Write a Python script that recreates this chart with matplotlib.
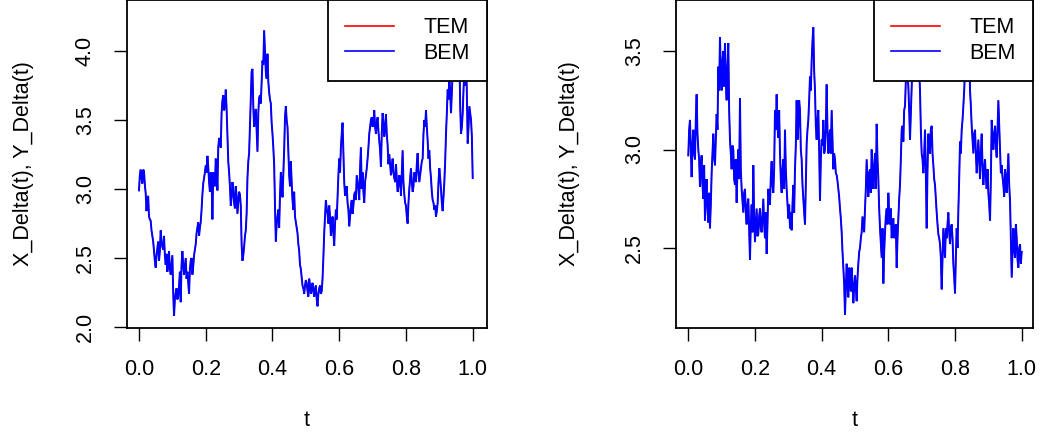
import numpy as np
import matplotlib
matplotlib.use("Agg")
import matplotlib.pyplot as plt

plt.rcParams['font.family'] = ['Liberation Sans', 'DejaVu Sans']

# ---------------- data ----------------
# Left panel. Values at t = 0, 0.005, ..., 1 (201 readings) ...
bem_left_grid = [
    2.99, 3.14, 3.04, 3.13, 2.97, 2.92, 2.80, 2.77, 2.66, 2.55,
    2.43, 2.57, 2.48, 2.70, 2.58, 2.66, 2.45, 2.40, 2.55, 2.38,
    2.52, 2.08, 2.25, 2.20, 2.30, 2.18, 2.55, 2.38, 2.50, 2.40,
    2.24, 2.48, 2.38, 2.52, 2.60, 2.72, 2.66, 2.76, 2.96, 3.08,
    3.17, 3.24, 3.05, 3.12, 2.78, 3.05, 3.22, 2.99, 3.37, 3.30,
    3.64, 3.57, 3.72, 3.38, 3.12, 2.88, 3.05, 2.90, 3.02, 2.82,
    2.98, 2.88, 2.48, 2.58, 2.70, 3.08, 3.26, 3.64, 3.87, 3.45,
    3.58, 3.27, 3.66, 3.62, 3.93, 4.15, 3.85, 3.98, 3.70, 3.62,
    3.40, 3.18, 2.62, 2.80, 2.72, 3.12, 2.94, 3.28, 3.60, 3.45,
    3.10, 3.20, 2.92, 2.98, 2.76, 2.68, 2.55, 2.42, 2.30, 2.24,
    2.34, 2.26, 2.35, 2.24, 2.32, 2.22, 2.30, 2.15, 2.28, 2.24,
    2.35, 2.68, 2.92, 2.82, 2.88, 2.66, 2.80, 2.59, 2.85, 2.95,
    3.22, 3.30, 3.48, 3.05, 2.98, 2.90, 2.73, 2.88, 2.82, 2.96,
    2.92, 3.05, 2.92, 3.30, 3.12, 2.90, 3.10, 3.22, 3.40, 3.50,
    3.45, 3.57, 3.40, 3.52, 3.35, 3.16, 3.55, 3.38, 3.54, 3.32,
    3.25, 3.10, 3.22, 3.08, 3.18, 2.98, 3.10, 2.95, 3.28, 2.96,
    2.88, 2.75, 3.00, 3.15, 2.98, 3.12, 3.05, 3.26, 3.05, 3.15,
    3.22, 3.50, 3.57, 3.35, 3.28, 3.08, 2.92, 2.85, 2.80, 2.90,
    3.15, 3.00, 2.84, 3.05, 3.40, 3.72, 3.82, 3.55, 3.85, 3.95,
    4.10, 4.25, 4.00, 3.40, 3.55, 3.85, 4.05, 3.33, 3.60, 3.50,
    3.08,
]
# ... and the readings half-way between them (200 readings)
bem_left_mid = [
    3.10, 3.08, 3.14, 3.03, 2.84, 2.95, 2.78, 2.70, 2.62, 2.48,
    2.52, 2.62, 2.55, 2.62, 2.56, 2.52, 2.53, 2.47, 2.42, 2.45,
    2.25, 2.20, 2.28, 2.22, 2.40, 2.45, 2.45, 2.44, 2.35, 2.32,
    2.42, 2.50, 2.44, 2.56, 2.68, 2.76, 2.72, 2.85, 3.04, 3.12,
    3.12, 3.16, 2.98, 3.08, 3.12, 3.02, 3.14, 3.30, 3.34, 3.55,
    3.68, 3.60, 3.58, 3.20, 3.02, 2.94, 3.00, 2.86, 2.95, 2.90,
    2.96, 2.60, 2.52, 2.66, 2.82, 3.20, 3.45, 3.85, 3.60, 3.50,
    3.42, 3.55, 3.68, 3.78, 3.90, 4.00, 3.80, 3.78, 3.65, 3.48,
    3.30, 2.88, 2.74, 2.85, 2.95, 3.05, 3.10, 3.52, 3.50, 3.28,
    3.02, 3.05, 2.85, 2.80, 2.72, 2.60, 2.45, 2.36, 2.28, 2.30,
    2.32, 2.22, 2.30, 2.27, 2.26, 2.28, 2.20, 2.24, 2.30, 2.26,
    2.50, 2.80, 2.86, 2.75, 2.80, 2.72, 2.68, 2.75, 2.78, 3.10,
    3.12, 3.40, 3.25, 2.95, 3.02, 2.85, 2.80, 2.92, 2.88, 2.98,
    3.10, 3.00, 3.15, 3.00, 2.98, 3.05, 3.15, 3.30, 3.45, 3.52,
    3.48, 3.45, 3.48, 3.42, 3.28, 3.40, 3.48, 3.44, 3.40, 3.18,
    3.18, 3.15, 3.12, 3.05, 3.08, 3.02, 3.08, 3.12, 3.05, 2.90,
    2.80, 2.90, 3.08, 3.05, 3.02, 3.10, 3.18, 3.12, 3.10, 3.20,
    3.40, 3.45, 3.45, 3.22, 3.15, 2.98, 2.90, 2.88, 2.84, 3.05,
    3.08, 2.90, 2.95, 3.20, 3.55, 3.65, 3.70, 3.70, 3.80, 4.00,
    4.15, 4.10, 3.60, 3.45, 3.72, 3.75, 3.70, 3.45, 3.55, 3.38,
]

# Right panel, same layout
bem_right_grid = [
    2.97, 3.15, 2.86, 3.10, 2.95, 3.28, 3.00, 2.81, 2.97, 2.75,
    2.64, 2.85, 2.63, 2.60, 2.88, 3.08, 2.92, 3.18, 3.42, 3.57,
    3.30, 3.50, 3.54, 3.25, 3.54, 3.05, 2.90, 3.00, 2.82, 2.73,
    3.00, 3.26, 2.80, 2.68, 2.80, 2.62, 2.75, 2.44, 2.72, 2.92,
    2.53, 2.70, 2.57, 2.70, 2.58, 2.75, 2.55, 2.47, 2.80, 2.72,
    2.94, 2.78, 3.20, 3.28, 3.06, 2.98, 2.78, 2.95, 3.10, 2.80,
    2.65, 2.60, 2.59, 2.82, 2.90, 3.25, 3.12, 3.20, 2.95, 2.75,
    2.62, 3.03, 3.15, 3.37, 3.45, 3.62, 3.30, 3.05, 3.20, 2.74,
    3.05, 3.15, 3.00, 3.33, 2.98, 3.10, 3.20, 2.90, 2.95, 2.87,
    2.80, 2.70, 2.58, 2.40, 2.16, 2.42, 2.25, 2.35, 2.40, 2.22,
    2.36, 2.23, 2.42, 2.50, 2.58, 2.62, 2.70, 2.95, 2.76, 2.90,
    3.00, 2.80, 2.98, 3.13, 2.85, 2.60, 2.45, 2.32, 2.58, 2.70,
    2.78, 2.62, 2.55, 2.65, 2.58, 2.40, 2.65, 2.82, 3.10, 3.04,
    3.22, 3.45, 3.32, 3.05, 3.30, 3.55, 3.68, 3.40, 3.60, 3.30,
    2.98, 2.88, 3.10, 2.60, 3.08, 2.98, 3.12, 2.92, 2.82, 2.68,
    2.57, 2.52, 2.29, 2.60, 2.45, 2.55, 2.68, 2.52, 2.62, 2.42,
    2.27, 2.60, 2.69, 3.04, 3.10, 3.22, 3.40, 3.55, 3.65, 3.30,
    3.12, 2.98, 3.10, 2.88, 3.05, 2.85, 3.08, 2.82, 2.95, 2.80,
    2.78, 2.64, 3.15, 3.00, 3.12, 2.96, 3.25, 3.00, 2.92, 2.82,
    2.90, 2.78, 2.98, 2.74, 2.35, 2.60, 2.45, 2.55, 2.40, 2.52,
    2.48,
]
bem_right_mid = [
    3.10, 3.00, 3.02, 2.98, 3.15, 3.08, 2.95, 2.92, 2.82, 2.92,
    2.78, 2.70, 2.78, 2.72, 2.98, 2.96, 3.05, 3.10, 3.30, 3.40,
    3.45, 3.32, 3.35, 3.42, 3.20, 2.98, 3.02, 2.85, 2.95, 2.90,
    2.85, 2.90, 2.74, 2.78, 2.68, 2.72, 2.60, 2.62, 2.58, 2.66,
    2.62, 2.56, 2.66, 2.60, 2.66, 2.62, 2.68, 2.62, 2.75, 2.86,
    2.82, 2.90, 3.10, 3.12, 3.20, 2.85, 2.90, 2.80, 2.90, 2.72,
    2.72, 2.68, 2.72, 2.68, 3.02, 3.05, 3.25, 3.00, 2.82, 2.68,
    2.82, 3.10, 3.25, 3.30, 3.55, 3.40, 3.12, 3.15, 3.00, 2.95,
    3.02, 2.98, 3.12, 3.10, 3.05, 2.98, 3.05, 2.98, 2.88, 2.84,
    2.76, 2.65, 2.48, 2.32, 2.30, 2.32, 2.40, 2.28, 2.32, 2.30,
    2.30, 2.35, 2.48, 2.55, 2.66, 2.58, 2.80, 2.85, 2.88, 2.78,
    2.88, 2.92, 2.80, 2.95, 2.70, 2.52, 2.60, 2.48, 2.66, 2.62,
    2.68, 2.70, 2.62, 2.55, 2.62, 2.55, 2.75, 2.95, 3.12, 3.20,
    3.35, 3.38, 3.20, 3.18, 3.45, 3.48, 3.50, 3.55, 3.40, 3.10,
    2.95, 2.98, 2.88, 2.90, 3.00, 3.10, 2.98, 2.85, 2.75, 2.62,
    2.55, 2.45, 2.45, 2.52, 2.60, 2.62, 2.58, 2.60, 2.55, 2.35,
    2.45, 2.50, 2.85, 2.98, 3.15, 3.30, 3.50, 3.62, 3.50, 3.22,
    3.05, 3.08, 2.98, 2.96, 2.95, 2.98, 2.92, 2.90, 2.86, 2.90,
    2.72, 2.85, 3.05, 3.08, 3.02, 3.10, 3.12, 2.88, 2.86, 2.76,
    2.85, 2.88, 2.82, 2.55, 2.48, 2.50, 2.62, 2.44, 2.50, 2.42,
]

x_ticks = [0.0, 0.2, 0.4, 0.6, 0.8, 1.0]
y_ticks_left = [2.0, 2.5, 3.0, 3.5, 4.0]
y_ticks_right = [2.5, 3.0, 3.5]
series_labels = ["TEM", "BEM"]
series_colors = ["#FF0000", "#0000FF"]


def merge(grid, mid):
    out = np.empty(len(grid) + len(mid))
    out[0::2] = grid
    out[1::2] = mid
    return out


bem_left = merge(bem_left_grid, bem_left_mid)
tem_left = bem_left.copy()      # TEM and BEM overlap in the picture
bem_right = merge(bem_right_grid, bem_right_mid)
tem_right = bem_right.copy()

# ---------------- figure ----------------
W, H = 1043, 438
fig = plt.figure(figsize=(W / 100, H / 100), dpi=100)

FS = 15.5


def px_axes(x0, x1, y0, y1):
    return fig.add_axes([x0 / W, 1 - y1 / H, (x1 - x0) / W, (y1 - y0) / H])


def draw_panel(ax, tem, bem, yticks, xlim, ylim):
    t = np.linspace(0.0, 1.0, len(bem))
    ax.plot(t, tem, color=series_colors[0], lw=0.9, label=series_labels[0],
            solid_joinstyle='miter')
    ax.plot(t, bem, color=series_colors[1], lw=1.4, label=series_labels[1],
            solid_joinstyle='miter')
    ax.set_xlim(*xlim)
    ax.set_ylim(*ylim)
    ax.set_xticks(x_ticks)
    ax.set_xticklabels([f"{v:.1f}" for v in x_ticks])
    ax.set_yticks(yticks)
    ax.set_yticklabels([f"{v:.1f}" for v in yticks], rotation=90, va='center')
    ax.tick_params(axis='both', direction='out', length=9.5, width=1.0,
                   labelsize=FS, colors='black', pad=13)
    for s in ax.spines.values():
        s.set_linewidth(1.3)
        s.set_color('black')
    ax.set_xlabel("t", fontsize=FS)
    ax.set_ylabel("X_Delta(t), Y_Delta(t)", fontsize=FS, va='center')
    leg = ax.legend(loc='upper right', bbox_to_anchor=(1.0, 1.0),
                    borderaxespad=0.0, fontsize=FS, fancybox=False,
                    framealpha=1.0, edgecolor='black', borderpad=0.8,
                    labelspacing=0.2, handlelength=2.3, handletextpad=1.35)
    leg.get_frame().set_linewidth(1.3)
    for line in leg.get_lines():
        line.set_linewidth(1.2)


# left panel
axL = px_axes(127, 487, 0, 328)
draw_panel(axL, tem_left, bem_left, y_ticks_left,
           ((127 - 139) / 333.7, (487 - 139) / 333.7),
           (2.0 + (327 - 328) / 138.0, 2.0 + 327 / 138.0))
axL.yaxis.set_label_coords((23 - 127) / 360.0, 0.5)
axL.xaxis.set_label_coords(0.5, -(421 - 328) / 328.0)

# right panel
axR = px_axes(676, 1033, 0, 328)
draw_panel(axR, tem_right, bem_right, y_ticks_right,
           ((676 - 688.3) / 333.4, (1033 - 688.3) / 333.4),
           (2.5 + (248 - 328) / 197.0, 2.5 + 248 / 197.0))
axR.yaxis.set_label_coords((570 - 676) / 357.0, 0.5)
axR.xaxis.set_label_coords(0.5, -(421 - 328) / 328.0)

for ax in (axL, axR):
    ax.xaxis.label.set_va('center')

fig.savefig("out.png", dpi=100)
